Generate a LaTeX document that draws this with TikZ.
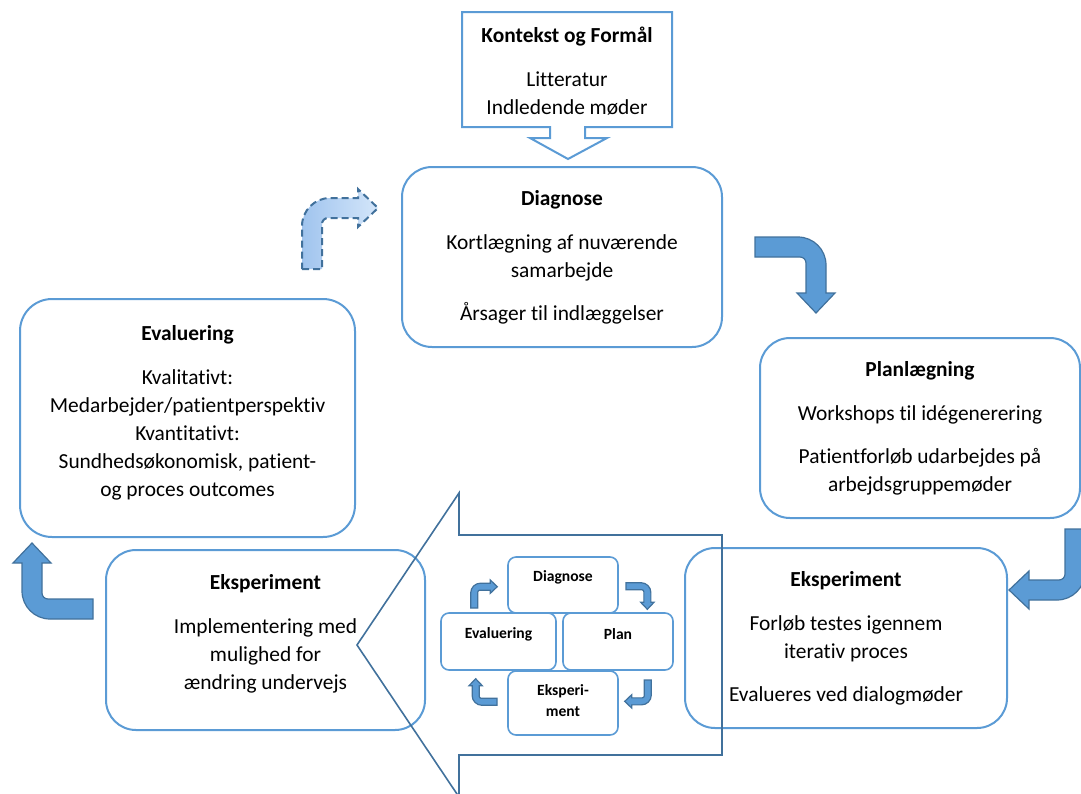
\documentclass[tikz,border=0pt]{standalone}
\usepackage{fontspec}
\setmainfont{Carlito}[Ligatures=NoCommon]
\usepackage{tikz}
\usepackage{xcolor}

\definecolor{boxblue}{RGB}{91,155,213}
\definecolor{edgeblue}{RGB}{65,113,156}
\definecolor{paleA}{RGB}{160,196,238}
\definecolor{paleB}{RGB}{212,230,250}

\tikzset{
  phasebox/.style={draw=boxblue, line width=1pt, rounded corners=15pt, align=center,
    font=\fontsize{10.7}{14}\selectfont},
  minibox/.style={draw=boxblue, line width=0.8pt, rounded corners=4pt, fill=white},
  minitext/.style={align=center, font=\fontsize{7.8}{10.5}\selectfont\bfseries},
  solidarrow/.style={fill=boxblue, draw=edgeblue, line width=0.6pt},
  dasharrow/.style={left color=paleA, right color=paleB, draw=edgeblue, line width=1pt,
    dash pattern=on 3.5pt off 2pt}
}

% bent arrow: position, rotation, scale, style (drawn going up, then right)
\newcommand{\bentarrow}[4]{%
  \begin{scope}[shift={#1}, rotate=#2, scale=#3]
    \path[#4] (-38,40) -- (-18,40) -- (-18,-5) arc (180:270:6) -- (18,-11) -- (18,-2)
      -- (38,-21) -- (18,-40) -- (18,-31) -- (-10,-31) arc (270:180:28) -- cycle;
  \end{scope}}

\begin{document}
\begin{tikzpicture}[x=0.5pt, y=-0.5pt]
        \useasboundingbox (0,0) rectangle (1081,793);
        % context box with arrow
        \draw[boxblue, line width=1pt, fill=white] (462,12) -- (672,12) -- (672,127) -- (585,127)
          -- (585,138) -- (607,138) -- (568,159) -- (530,138) -- (550,138) -- (550,127)
          -- (462,127) -- cycle;
        \node[align=center, font=\fontsize{10.7}{14}\selectfont] (kontekst) at (567,71)
          {\textbf{Kontekst og Formål}\\[8pt] Litteratur\\ Indledende møder};
        % phases
        \node[phasebox, minimum width=160pt, minimum height=90pt] (diagnose) at (562,257)
          {\textbf{Diagnose}\\[8pt] Kortlægning af nuværende\\ samarbejde\\[7.5pt] Årsager til indlæggelser};
        \node[phasebox, minimum width=160pt, minimum height=90pt] (planl) at (920,428)
          {\textbf{Planlægning}\\[8pt] Workshops til idégenerering\\[7.5pt] Patientforløb udarbejdes på\\ arbejdsgruppemøder};
        \node[phasebox, minimum width=161pt, minimum height=90pt] (eksright) at (846,638)
          {\textbf{Eksperiment}\\[8pt] Forløb testes igennem\\ iterativ proces\\[7.5pt] Evalueres ved dialogmøder};
        \node[phasebox, minimum width=159.5pt, minimum height=90pt] (eksleft) at (265.5,640)
          {\textbf{Eksperiment}\\[8pt] Implementering med\\ mulighed for\\ ændring undervejs\\[-10pt]\strut};
        \node[phasebox, rounded corners=16pt, minimum width=167.5pt, minimum height=119pt] (evaluering) at (187.5,418)
          {\textbf{Evaluering}\\[8pt] Kvalitativt:\\ Medarbejder/patientperspektiv\\ Kvantitativt:\\ Sundhedsøkonomisk, patient-\\ og proces outcomes\\[-11pt]\strut};
        % big hollow arrow
        \draw[edgeblue, line width=0.8pt] (357,645) -- (459,493) -- (459,535) -- (722,535)
          -- (722,755) -- (459,755) -- (459,797) -- cycle;
        % small cycle
        \node[minibox, minimum width=55pt, minimum height=28pt] (sdiag) at (563,585) {};
        \node[minibox, minimum width=57.5pt, minimum height=28.5pt] (seval) at (498.5,641.5) {};
        \node[minibox, minimum width=55pt, minimum height=28.5pt] (splan) at (618,641.5) {};
        \node[minibox, minimum width=55pt, minimum height=32pt] (seks) at (563,703) {};
        \node[minitext] (sdiagtxt) at (563,577) {Diagnose};
        \node[minitext] (sevaltxt) at (498.5,634) {Evaluering};
        \node[minitext] (splantxt) at (618,634) {Plan};
        \node[minitext] (sekstxt) at (563,701) {Eksperi-\\ment};
        % bent arrows
        \bentarrow{(340,229)}{0}{1}{dasharrow}
        \bentarrow{(795,275)}{-90}{1}{solidarrow}
        \bentarrow{(1047,569)}{180}{1}{solidarrow}
        \bentarrow{(53,581)}{90}{1}{solidarrow}
        \bentarrow{(484,594)}{0}{0.35}{solidarrow}
        \bentarrow{(640,596)}{-90}{0.35}{solidarrow}
        \bentarrow{(638,694)}{180}{0.35}{solidarrow}
        \bentarrow{(483,692)}{90}{0.35}{solidarrow}
\end{tikzpicture}
\end{document}
